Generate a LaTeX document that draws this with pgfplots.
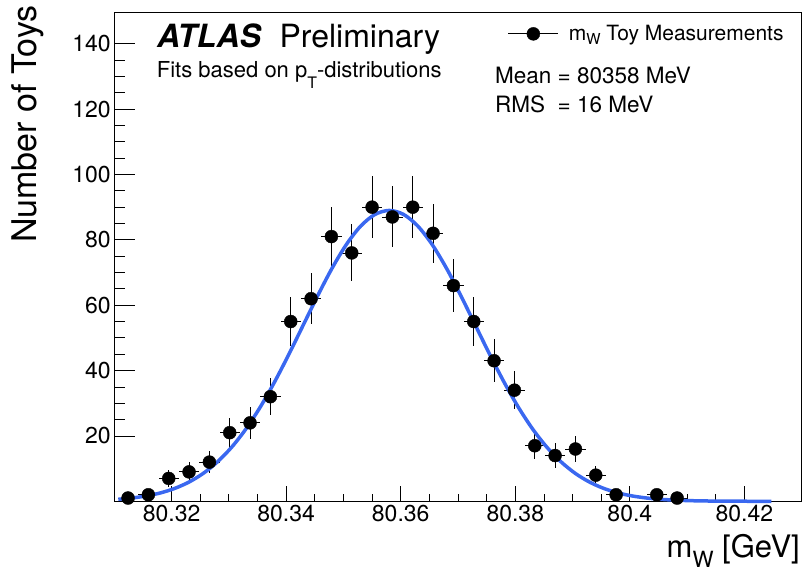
\documentclass[border=0pt]{standalone}
\usepackage{fontspec}
\setmainfont{TeX Gyre Heros}
\usepackage{graphicx}
\usepackage{pgfplots}
\pgfplotsset{compat=1.18}
\usepackage{pgfplotstable}
\usetikzlibrary{calc}
\definecolor{fitblue}{RGB}{58,104,240}
\newcommand{\lsub}[2]{\raisebox{-#1}{\scalebox{0.72}{#2}}}
\newcommand{\fs}[1]{\fontsize{#1}{#1}\selectfont}

\pgfplotstableread{
x        y   ex      ey
80.3124  1   0.00178 1.00
80.31595 2   0.00178 1.41
80.3195  7   0.00178 2.65
80.32305 9   0.00178 3.00
80.3266  12  0.00178 3.46
80.33015 21  0.00178 4.58
80.3337  24  0.00178 4.90
80.33725 32  0.00178 5.66
80.3408  55  0.00178 7.42
80.34435 62  0.00178 7.87
80.3479  81  0.00178 9.00
80.35145 76  0.00178 8.72
80.355   90  0.00178 9.49
80.35855 87  0.00178 9.33
80.3621  90  0.00178 9.49
80.36565 82  0.00178 9.06
80.3692  66  0.00178 8.12
80.37275 55  0.00178 7.42
80.3763  43  0.00178 6.56
80.37985 34  0.00178 5.83
80.3834  17  0.00178 4.12
80.38695 14  0.00178 3.74
80.3905  16  0.00178 4.00
80.39405 8   0.00178 2.83
80.3976  2   0.00178 1.41
80.4047  2   0.00178 1.41
80.40825 1   0.00178 1.00
}\toys

\pgfplotstableread{
x        y
80.3107  0.62
80.313   0.989
80.3155  1.61
80.318   2.54
80.3205  3.91
80.323   5.85
80.3255  8.51
80.328   12.05
80.3305  16.58
80.333   22.19
80.3355  28.89
80.338   36.59
80.3405  45.06
80.343   53.98
80.3455  62.89
80.348   71.27
80.3505  78.54
80.353   84.19
80.3555  87.77
80.358   89.00
80.3605  87.77
80.363   84.19
80.3655  78.54
80.368   71.27
80.3705  62.89
80.373   53.98
80.3755  45.06
80.378   36.59
80.3805  28.89
80.383   22.19
80.3855  16.58
80.388   12.05
80.3905  8.51
80.393   5.85
80.3955  3.91
80.398   2.54
80.4005  1.61
80.403   0.989
80.4055  0.592
80.408   0.344
80.4105  0.195
80.413   0.107
80.4155  0.057
80.418   0.030
80.4205  0.015
80.423   0.007
80.4247  0.005
}\fit

\begin{document}
\begin{tikzpicture}
\begin{axis}[
  scale only axis,
  width=687.4bp, height=488.6bp,
  xmin=80.31, xmax=80.43, ymin=0, ymax=149.5,
  clip=false,
  axis line style={black, line width=1bp},
  tick pos=left,
  tick align=inside,
  xtick={80.32,80.34,80.36,80.38,80.40,80.42},
  xticklabels={80.32,80.34,80.36,80.38,80.4,80.42},
  ytick={20,40,60,80,100,120,140},
  yticklabels={20,40,60,80,100,120,140},
  minor x tick num=3,
  minor y tick num=3,
  scaled x ticks=false,
  xtick style={black, line width=0.8bp, /pgfplots/major tick length=15bp, /pgfplots/minor tick length=7bp},
  ytick style={black, line width=0.8bp, /pgfplots/major tick length=21bp, /pgfplots/minor tick length=11bp},
  ticklabel style={font=\fs{23bp}},
  legend style={at={(rel axis cs:0.5727,0.9567)}, anchor=west, draw=none, fill=none,
    inner sep=0pt, outer sep=0pt, column sep=10bp, nodes={inner sep=0pt}, font=\fs{21bp}},
  legend cell align=left,
  legend image code/.code={%
    \draw[black, line width=0.8bp] (0bp,0bp) -- (50bp,0bp);
    \fill[black] (25bp,0bp) circle (6.5bp);},
]
\addplot+[black, only marks, mark=*, mark size=6.5bp,
  mark options={fill=black, draw=black},
  error bars/.cd, x dir=both, x explicit, y dir=both, y explicit,
  error mark=none, error bar style={black, line width=0.8bp}]
  table[x=x, y=y, x error=ex, y error=ey] {\toys};
\addlegendentry{m\lsub{0.2em}{W} Toy Measurements}
\addplot[fitblue, line width=3.5bp, smooth, no marks, forget plot] table[x=x, y=y] {\fit};

\node[anchor=base west, inner sep=0pt, font=\fs{32bp}] at (rel axis cs:0.0621,0.9278)
  {\textbf{\textit{ATLAS}}\hspace{18bp}Preliminary};
\node[anchor=base west, inner sep=0pt, font=\fs{22bp}] at (rel axis cs:0.0617,0.8678)
  {Fits based on p\lsub{0.5em}{T}-distributions};
\node[anchor=base west, inner sep=0pt, font=\fs{22.5bp}] at (rel axis cs:0.5538,0.8561)
  {Mean = 80358 MeV};
\node[anchor=base west, inner sep=0pt, font=\fs{22.5bp}] at (rel axis cs:0.5538,0.7967)
  {RMS\ \ = 16 MeV};
\node[anchor=base east, inner sep=0pt, font=\fs{31bp}] at (rel axis cs:0.9975,-0.116)
  {m\lsub{0.32em}{W} [GeV]};
\node[anchor=base east, rotate=90, inner sep=0pt, font=\fs{34bp}] at (rel axis cs:-0.1125,1.0158)
  {Number of Toys};
\end{axis}
\pgfresetboundingbox
\path ($(current axis.south west)+(-114.3bp,-71.7bp)$) rectangle ($(current axis.north east)+(3.3bp,12.7bp)$);
\end{tikzpicture}
\end{document}
